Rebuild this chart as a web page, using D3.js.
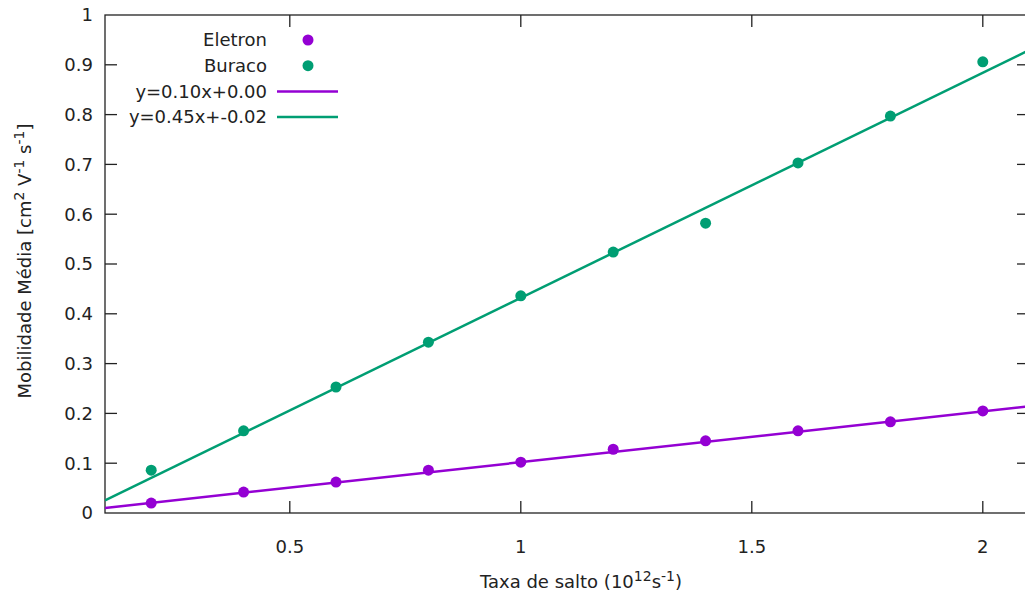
<!DOCTYPE html>
<html>
<head>
<meta charset="utf-8">
<script src="https://cdn.jsdelivr.net/npm/d3@7"></script>
<style>
  body { margin: 0; background: #fff; }
  text { font-family: "DejaVu Sans", Verdana, sans-serif; fill: #222; }
</style>
</head>
<body>
<div id="chart"></div>
<script>
// hop rates (10^12 s^-1)
const taxas = [0.2, 0.4, 0.6, 0.8, 1.0, 1.2, 1.4, 1.6, 1.8, 2.0];
const eletron = [0.020, 0.042, 0.062, 0.086, 0.102, 0.128, 0.145, 0.165, 0.183, 0.205];
const buraco = [0.086, 0.165, 0.253, 0.343, 0.436, 0.524, 0.582, 0.703, 0.797, 0.906];

// linear fits [slope, intercept]
const ajusteEletron = [0.102, 0.000];
const ajusteBuraco = [0.452, -0.020];

const legendas = ["Eletron", "Buraco", "y=0.10x+0.00", "y=0.45x+-0.02"];
const xTicks = [0.5, 1, 1.5, 2];
const yTicks = [0, 0.1, 0.2, 0.3, 0.4, 0.5, 0.6, 0.7, 0.8, 0.9, 1];

const width = 1025, height = 594;
const margin = { left: 105, right: -4, top: 15, bottom: 81 };
const purple = "#9400d3", green = "#009e73";
const fs = 18, fsSup = 14;

const svg = d3.select("#chart").append("svg")
  .attr("width", width)
  .attr("height", height);

const x = d3.scaleLinear().domain([0.1, 2.1]).range([margin.left, width - margin.right]);
const y = d3.scaleLinear().domain([0, 1]).range([height - margin.bottom, margin.top]);

svg.append("clipPath").attr("id", "clip")
  .append("rect")
  .attr("x", margin.left).attr("y", margin.top)
  .attr("width", x.range()[1] - margin.left)
  .attr("height", y(0) - margin.top);

// border + inward ticks (gnuplot style)
const tickLen = 12;
const axes = svg.append("g").attr("stroke", "#222").attr("stroke-width", 1.3);
axes.append("rect")
  .attr("x", margin.left).attr("y", margin.top)
  .attr("width", x.range()[1] - margin.left)
  .attr("height", y(0) - margin.top)
  .attr("fill", "none");

xTicks.forEach(t => {
  axes.append("line").attr("x1", x(t)).attr("x2", x(t)).attr("y1", y(0)).attr("y2", y(0) - tickLen);
  axes.append("line").attr("x1", x(t)).attr("x2", x(t)).attr("y1", y(1)).attr("y2", y(1) + tickLen);
});
yTicks.forEach(t => {
  if (t === 0 || t === 1) return;
  axes.append("line").attr("x1", x(0.1)).attr("x2", x(0.1) + tickLen).attr("y1", y(t)).attr("y2", y(t));
  axes.append("line").attr("x1", x(2.1)).attr("x2", x(2.1) - tickLen).attr("y1", y(t)).attr("y2", y(t));
});

svg.append("g").selectAll("text").data(xTicks).join("text")
  .attr("x", d => x(d)).attr("y", y(0) + 40)
  .attr("text-anchor", "middle")
  .attr("font-size", fs)
  .text(d => d);

svg.append("g").selectAll("text").data(yTicks).join("text")
  .attr("x", margin.left - 12).attr("y", d => y(d))
  .attr("dy", "0.35em")
  .attr("text-anchor", "end")
  .attr("font-size", fs)
  .text(d => d);

// axis titles
const xl = svg.append("text")
  .attr("x", 581).attr("y", 588)
  .attr("text-anchor", "middle")
  .attr("font-size", fs);
xl.append("tspan").text("Taxa de salto (10");
xl.append("tspan").attr("font-size", fsSup).attr("dy", -7).text("12");
xl.append("tspan").attr("dy", 7).text("s");
xl.append("tspan").attr("font-size", fsSup).attr("dy", -7).text("-1");
xl.append("tspan").attr("dy", 7).text(")");

const yl = svg.append("text")
  .attr("transform", "translate(31,261) rotate(-90)")
  .attr("text-anchor", "middle")
  .attr("font-size", fs);
yl.append("tspan").text("Mobilidade Média [cm");
yl.append("tspan").attr("font-size", fsSup).attr("dy", -7).text("2");
yl.append("tspan").attr("dy", 7).text(" V");
yl.append("tspan").attr("font-size", fsSup).attr("dy", -7).text("-1");
yl.append("tspan").attr("dy", 7).text(" s");
yl.append("tspan").attr("font-size", fsSup).attr("dy", -7).text("-1");
yl.append("tspan").attr("dy", 7).text("]");

// fit lines
const plot = svg.append("g").attr("clip-path", "url(#clip)");
const line = d3.line().x(d => x(d[0])).y(d => y(d[1]));
[[ajusteEletron, purple], [ajusteBuraco, green]].forEach(([c, col]) => {
  plot.append("path")
    .attr("d", line(x.domain().map(v => [v, c[0] * v + c[1]])))
    .attr("fill", "none").attr("stroke", col).attr("stroke-width", 2.5);
});

// points
[[eletron, purple], [buraco, green]].forEach(([vals, col]) => {
  plot.append("g").selectAll("circle").data(vals).join("circle")
    .attr("cx", (d, i) => x(taxas[i]))
    .attr("cy", d => y(d))
    .attr("r", 5.5)
    .attr("fill", col);
});

// legend
const leg = svg.append("g");
const legColors = [purple, green, purple, green];
legendas.forEach((t, i) => {
  const ly = 40 + i * 25.7;
  leg.append("text").attr("x", 267).attr("y", ly).attr("dy", "0.35em")
    .attr("text-anchor", "end").attr("font-size", fs).text(t);
  if (i < 2) {
    leg.append("circle").attr("cx", 308).attr("cy", ly).attr("r", 5.5).attr("fill", legColors[i]);
  } else {
    leg.append("line").attr("x1", 277).attr("x2", 338).attr("y1", ly).attr("y2", ly)
      .attr("stroke", legColors[i]).attr("stroke-width", 2.5);
  }
});
</script>
</body>
</html>
